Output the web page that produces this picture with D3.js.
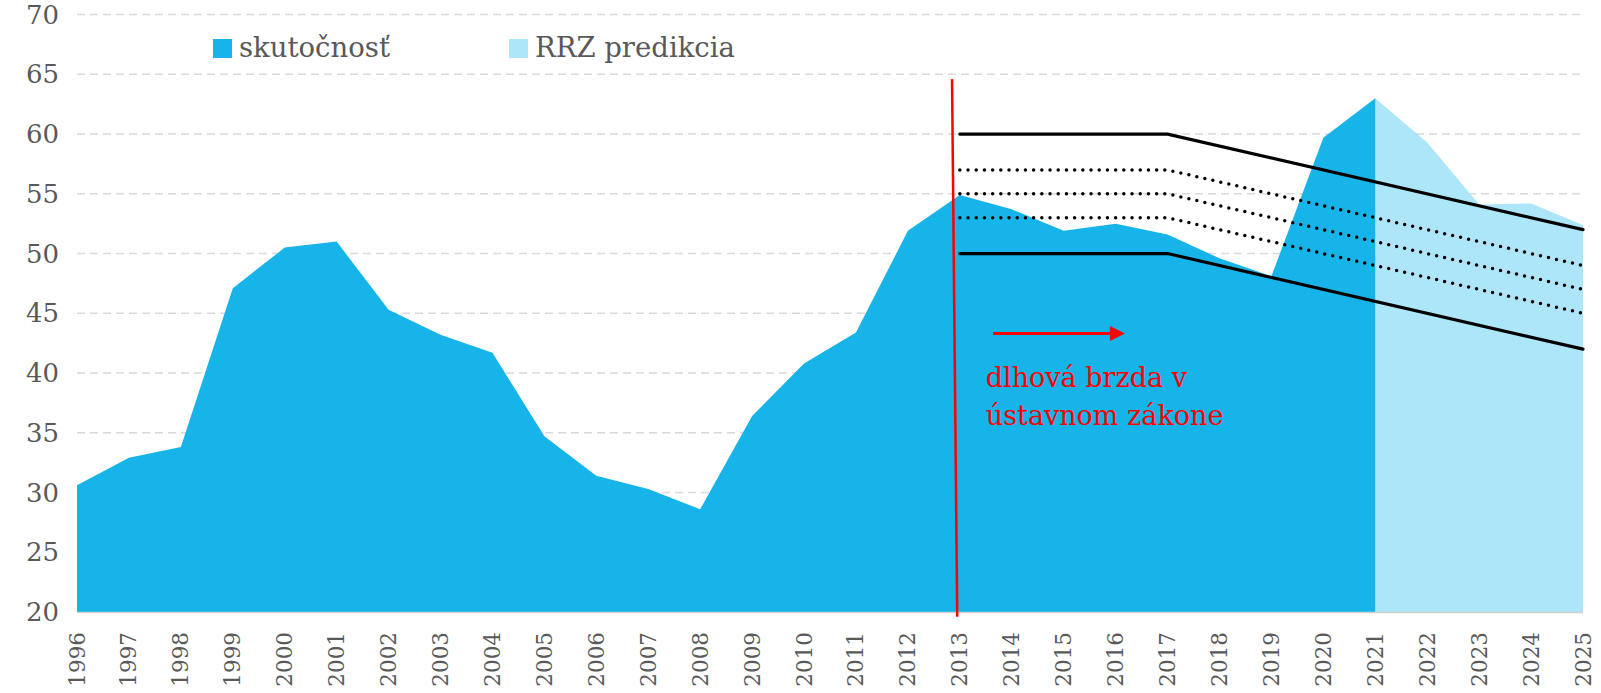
<!DOCTYPE html>
<html>
<head>
<meta charset="utf-8">
<script src="https://cdn.jsdelivr.net/npm/d3@7"></script>
<style>
  body { margin: 0; background: #fff; }
  #viz-container { width: 1601px; height: 693px; }
  text { font-family: "DejaVu Serif", "Liberation Serif", serif; }
</style>
</head>
<body>
<div id="viz-container"></div>
<script>
// years on the x axis
var years = [1996, 1997, 1998, 1999, 2000, 2001, 2002, 2003, 2004, 2005,
             2006, 2007, 2008, 2009, 2010, 2011, 2012, 2013, 2014, 2015,
             2016, 2017, 2018, 2019, 2020, 2021, 2022, 2023, 2024, 2025];
// skutočnosť 1996-2021
var actual = [30.6, 32.9, 33.8, 47.1, 50.5, 51.0, 45.3, 43.2, 41.7, 34.7,
              31.4, 30.3, 28.6, 36.4, 40.8, 43.4, 51.9, 54.9, 53.7, 51.9,
              52.5, 51.6, 49.6, 48.1, 59.7, 63.0];
// RRZ predikcia 2021-2025
var forecastYears = [2021, 2022, 2023, 2024, 2025];
var forecast = [63.0, 59.3, 54.1, 54.2, 52.4];
// dlhová brzda thresholds
var brakeYears = [2013, 2017, 2025];
var upperLimit = [60, 60, 52];
var lowerLimit = [50, 50, 42];
var sanction1 = [57, 57, 49];
var sanction2 = [55, 55, 47];
var sanction3 = [53, 53, 45];
// red marker line and arrow
var markerYears = [2012.85, 2012.95];
var markerValues = [64.6, 19.6];
var arrowYears = [2013.64, 2016.18];
var arrowValue = 43.3;
var yTicks = [20, 25, 30, 35, 40, 45, 50, 55, 60, 65, 70];

var blue = '#16b4e9';
var lightBlue = '#ade6f8';
var grey = '#595959';

renderChart();

function renderChart() {
    var width = 1601, height = 693;
    var svg = d3.select('#viz-container').append('svg')
        .attr('width', width)
        .attr('height', height);

    var x = d3.scaleLinear().domain([1996, 2025]).range([77, 1583]);
    var y = d3.scaleLinear().domain([20, 70]).range([612, 14.6]);

    // gridlines
    svg.append('g')
        .selectAll('line')
        .data(yTicks.slice(1))
        .enter().append('line')
        .attr('x1', x(1996))
        .attr('x2', x(2025))
        .attr('y1', function(d) { return y(d); })
        .attr('y2', function(d) { return y(d); })
        .style('stroke', '#d9d9d9')
        .style('stroke-width', 1.5)
        .style('stroke-dasharray', '8,5');

    var area = d3.area()
        .x(function(d) { return x(d[0]); })
        .y0(y(20))
        .y1(function(d) { return y(d[1]); });

    var actualData = actual.map(function(v, i) { return [years[i], v]; });
    var forecastData = forecast.map(function(v, i) { return [forecastYears[i], v]; });

    svg.append('path')
        .datum(forecastData)
        .attr('d', area)
        .style('fill', lightBlue);

    svg.append('path')
        .datum(actualData)
        .attr('d', area)
        .style('fill', blue);

    // x axis line
    svg.append('line')
        .attr('x1', x(1996)).attr('x2', x(2025))
        .attr('y1', y(20) + 0.5).attr('y2', y(20) + 0.5)
        .style('stroke', '#d0d0d0')
        .style('stroke-width', 1.5);

    // brake lines
    var line = d3.line()
        .x(function(d) { return x(d[0]); })
        .y(function(d) { return y(d[1]); });

    function limitLine(values, dotted) {
        var p = svg.append('path')
            .datum(values.map(function(v, i) { return [brakeYears[i], v]; }))
            .attr('d', line)
            .style('fill', 'none')
            .style('stroke', '#000')
            .style('stroke-linecap', 'round');
        if (dotted) {
            p.style('stroke-width', 3.5).style('stroke-dasharray', '0,8.2');
        } else {
            p.style('stroke-width', 3.2);
        }
    }
    limitLine(sanction1, true);
    limitLine(sanction2, true);
    limitLine(sanction3, true);
    limitLine(upperLimit, false);
    limitLine(lowerLimit, false);

    // red vertical marker
    svg.append('line')
        .attr('x1', x(markerYears[0])).attr('y1', y(markerValues[0]))
        .attr('x2', x(markerYears[1])).attr('y2', y(markerValues[1]))
        .style('stroke', '#ff0000')
        .style('stroke-width', 2.5);

    // red arrow
    var ax0 = x(arrowYears[0]), ax1 = x(arrowYears[1]), ay = y(arrowValue);
    svg.append('line')
        .attr('x1', ax0).attr('x2', ax1 - 12)
        .attr('y1', ay).attr('y2', ay)
        .style('stroke', '#ff0000')
        .style('stroke-width', 3);
    svg.append('path')
        .attr('d', 'M' + (ax1 - 15) + ',' + (ay - 7.5) + 'L' + ax1 + ',' + ay + 'L' + (ax1 - 15) + ',' + (ay + 7.5) + 'Z')
        .style('fill', '#ff0000');

    svg.append('text')
        .attr('x', x(2013.5))
        .attr('y', y(arrowValue) + 53)
        .style('fill', '#ff0000')
        .style('font-size', '27px')
        .text('dlhová brzda v');
    svg.append('text')
        .attr('x', x(2013.5))
        .attr('y', y(arrowValue) + 91)
        .style('fill', '#ff0000')
        .style('font-size', '27px')
        .text('ústavnom zákone');

    // y axis labels
    svg.append('g')
        .selectAll('text')
        .data(yTicks)
        .enter().append('text')
        .attr('x', 59)
        .attr('y', function(d) { return y(d); })
        .attr('dy', '0.35em')
        .attr('text-anchor', 'end')
        .style('font-size', '26px')
        .style('fill', grey)
        .text(function(d) { return d; });

    // x axis labels
    svg.append('g')
        .selectAll('text')
        .data(years)
        .enter().append('text')
        .attr('transform', function(d) { return 'translate(' + x(d) + ',' + 632 + ') rotate(-90)'; })
        .attr('dy', '0.35em')
        .attr('text-anchor', 'end')
        .style('font-size', '21.5px')
        .style('fill', grey)
        .text(function(d) { return d; });

    // legend
    var legend = [
        { label: 'skutočnosť', color: blue, x: 213 },
        { label: 'RRZ predikcia', color: lightBlue, x: 509 }
    ];
    var item = svg.append('g').selectAll('g')
        .data(legend)
        .enter().append('g')
        .attr('transform', function(d) { return 'translate(' + d.x + ',39)'; });
    item.append('rect')
        .attr('width', 19).attr('height', 19)
        .style('fill', function(d) { return d.color; });
    item.append('text')
        .attr('x', 26)
        .attr('y', 18)
        .style('font-size', '27.5px')
        .style('fill', grey)
        .text(function(d) { return d.label; });
}
</script>
</body>
</html>
